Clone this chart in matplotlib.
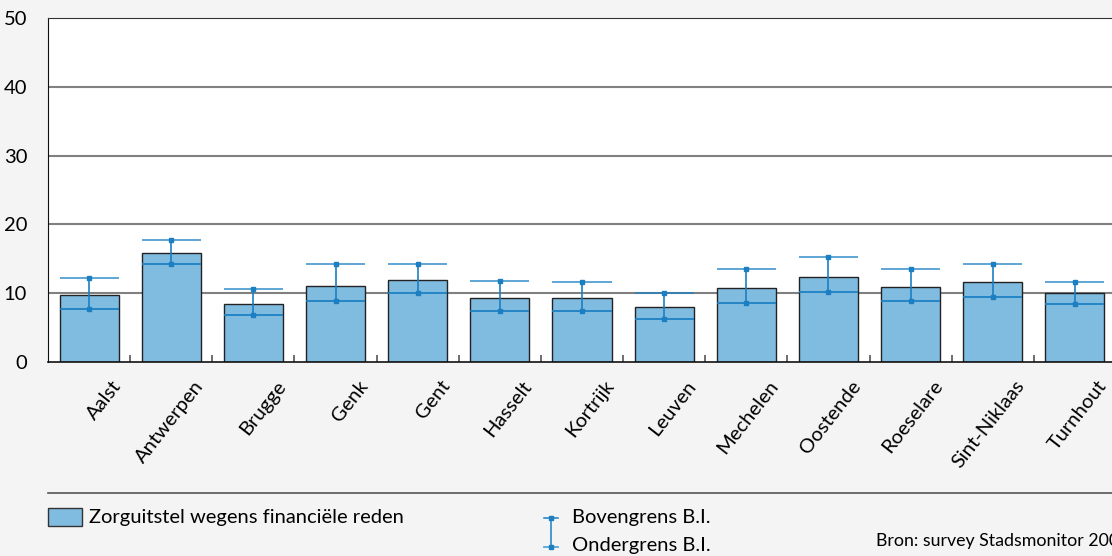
import numpy as np
import matplotlib.pyplot as plt
import matplotlib.transforms as mtransforms
from matplotlib.lines import Line2D

plt.rcParams['font.family'] = ['Lato', 'DejaVu Sans']

# data
steden = ['Aalst', 'Antwerpen', 'Brugge', 'Genk', 'Gent', 'Hasselt', 'Kortrijk',
          'Leuven', 'Mechelen', 'Oostende', 'Roeselare', 'Sint-Niklaas', 'Turnhout']
zorguitstel = [9.7, 15.9, 8.5, 11.1, 11.9, 9.35, 9.25, 7.95, 10.7, 12.4, 10.9, 11.7, 10.0]
bovengrens = [12.25, 17.7, 10.6, 14.2, 14.2, 11.8, 11.6, 10.1, 13.5, 15.2, 13.5, 14.3, 11.7]
ondergrens = [7.66, 14.3, 6.9, 8.9, 10.1, 7.45, 7.35, 6.25, 8.55, 10.2, 8.9, 9.4, 8.5]
y_ticks = [0, 10, 20, 30, 40, 50]

bar_color = '#80bbe0'
err_color = '#1b7fc2'
bg = '#f4f4f4'
fs = 14.5

fig = plt.figure(figsize=(11.12, 5.56), dpi=100, facecolor=bg)
ax = fig.add_axes([48/1112, 1-362/556, (1116-48)/1112, (362-18)/556])
ax.set_facecolor('white')

x = np.arange(len(steden))
w = 0.72
ax.bar(x, zorguitstel, width=w, color=bar_color, edgecolor='#222222', linewidth=1.0, zorder=2)

# confidence intervals: caps span the full bar width
ax.vlines(x, ondergrens, bovengrens, color=err_color, linewidth=1.2, zorder=3)
ax.hlines(bovengrens, x - w/2, x + w/2, color=err_color, linewidth=1.4, alpha=0.7, zorder=3)
ax.hlines(ondergrens, x - w/2, x + w/2, color=err_color, linewidth=1.4, alpha=0.9, zorder=3)
ax.plot(x, bovengrens, 's', color=err_color, markersize=3, zorder=4)
ax.plot(x, ondergrens, 's', color=err_color, markersize=3, zorder=4)

ax.set_xlim(-0.5, len(steden) - 0.5)
ax.set_ylim(0, 50)
ax.set_yticks(y_ticks)
ax.set_yticklabels([str(t) for t in y_ticks], fontsize=fs)
ax.tick_params(axis='y', length=0, pad=15)
for t in y_ticks[1:-1]:
    ax.axhline(t, color='#808080', linewidth=1.5, zorder=1)

ax.set_xticks(x)
ax.set_xticklabels(steden, rotation=52, ha='right', rotation_mode='anchor', fontsize=fs)
ax.tick_params(axis='x', which='major', length=0, pad=11)
offset = mtransforms.ScaledTranslation(0.22, 0, fig.dpi_scale_trans)
for lab in ax.get_xticklabels():
    lab.set_transform(lab.get_transform() + offset)
ax.set_xticks(x[:-1] + 0.5, minor=True)
ax.tick_params(axis='x', which='minor', direction='in', length=5, color='#555555', width=1.2)

ax.spines['right'].set_visible(False)
ax.spines['top'].set_color('#333333')
ax.spines['top'].set_linewidth(0.8)
ax.spines['left'].set_color('#111111')
ax.spines['bottom'].set_color('#111111')
ax.spines['bottom'].set_linewidth(1.2)

# legend area
fig.add_artist(Line2D([48/1112, 1], [1-493/556, 1-493/556], color='#555555', linewidth=1.2))
fig.patches.append(plt.Rectangle((48/1112, 1-526/556), 34/1112, 18/556, transform=fig.transFigure,
                                 facecolor=bar_color, edgecolor='#333333', linewidth=1.0))
fig.text(89/1112, 1-517/556, 'Zorguitstel wegens financiële reden', fontsize=fs, va='center')

lx = 551/1112
fig.add_artist(Line2D([lx, lx], [1-518/556, 1-547/556], color=err_color, linewidth=1.1))
fig.add_artist(Line2D([544/1112, 558/1112], [1-518/556, 1-518/556], color=err_color, linewidth=1.1))
fig.add_artist(Line2D([544/1112, 558/1112], [1-547/556, 1-547/556], color='#5aa6d8', linewidth=1.3))
fig.add_artist(Line2D([lx], [1-518/556], marker='s', markersize=2.5, color=err_color))
fig.add_artist(Line2D([lx], [1-547/556], marker='s', markersize=2.5, color=err_color))
fig.text(572/1112, 1-517/556, 'Bovengrens B.I.', fontsize=fs, va='center')
fig.text(572/1112, 1-545/556, 'Ondergrens B.I.', fontsize=fs, va='center')
fig.text(876/1112, 1-541/556, 'Bron: survey Stadsmonitor 2008', fontsize=12.8, va='center')

fig.savefig('out.png', dpi=100, facecolor=bg)
